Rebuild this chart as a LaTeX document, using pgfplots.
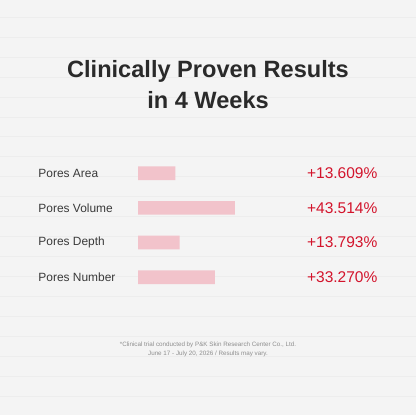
\documentclass[border=0pt]{standalone}
\usepackage{pgfplots}
\pgfplotsset{compat=1.18}
\usepackage{fontspec}
\setmainfont{Liberation Sans}
\definecolor{bgcol}{HTML}{F4F4F4}
\definecolor{linecol}{HTML}{EDEDED}
\definecolor{barcol}{HTML}{F2C3CB}
\definecolor{redcol}{HTML}{D3142C}
\definecolor{titlecol}{HTML}{2A2A2A}
\definecolor{labcol}{HTML}{3A3A3A}
\definecolor{notecol}{HTML}{8E8E8E}
\tikzset{lab/.style={font=\fontsize{12}{14}\selectfont, text=labcol, anchor=west, inner sep=0pt},
         pct/.style={font=\fontsize{15.6}{18}\selectfont, text=redcol, anchor=west, inner sep=0pt}}
\begin{document}
\begin{tikzpicture}
\fill[bgcol] (0,0) rectangle (416bp,416bp);
\foreach \k in {0,...,19} {
  \draw[linecol, line width=0.6bp] (0,{416bp-(17bp+20bp*\k)}) -- (416bp,{416bp-(17bp+20bp*\k)});
}
\begin{axis}[
  at={(0,0)}, anchor=south west,
  width=416bp, height=416bp, scale only axis,
  xmin=0, xmax=416, ymin=0, ymax=416, y dir=reverse,
  axis lines=none, enlargelimits=false, clip=false,
  xbar stacked, bar width=13.7,
]
% invisible offset so the bars start at x = 138
\addplot[draw=none, fill=none] coordinates {(138,173.5) (138,208.2) (138,242.9) (138,277.6)};
% bar lengths
\addplot[draw=none, fill=barcol] coordinates {(37.3,173.5) (97,208.2) (41.7,242.9) (77,277.6)};

\node[font=\bfseries\fontsize{23.7}{28}\selectfont, text=titlecol, anchor=base]
  at (axis cs:208,78) {Clinically Proven Results};
\node[font=\bfseries\fontsize{23.7}{28}\selectfont, text=titlecol, anchor=base]
  at (axis cs:208,109) {in 4 Weeks};

\node[lab] at (axis cs:38,173.5) {Pores Area};
\node[lab] at (axis cs:38,208.2) {Pores Volume};
\node[lab] at (axis cs:38,242.9) {Pores Depth};
\node[lab] at (axis cs:38,277.6) {Pores Number};
\node[pct] at (axis cs:307,173.5) {+13.609\%};
\node[pct] at (axis cs:307,208.2) {+43.514\%};
\node[pct] at (axis cs:307,242.9) {+13.793\%};
\node[pct] at (axis cs:307,277.6) {+33.270\%};

\node[font=\fontsize{6.3}{8}\selectfont, text=notecol, anchor=center, inner sep=0pt] at (axis cs:208,345) {*Clinical trial conducted by P\&K Skin Research Center Co., Ltd.};
\node[font=\fontsize{6.3}{8}\selectfont, text=notecol, anchor=center, inner sep=0pt] at (axis cs:208,354) {June 17 - July 20, 2026 / Results may vary.};
\end{axis}
\end{tikzpicture}
\end{document}
